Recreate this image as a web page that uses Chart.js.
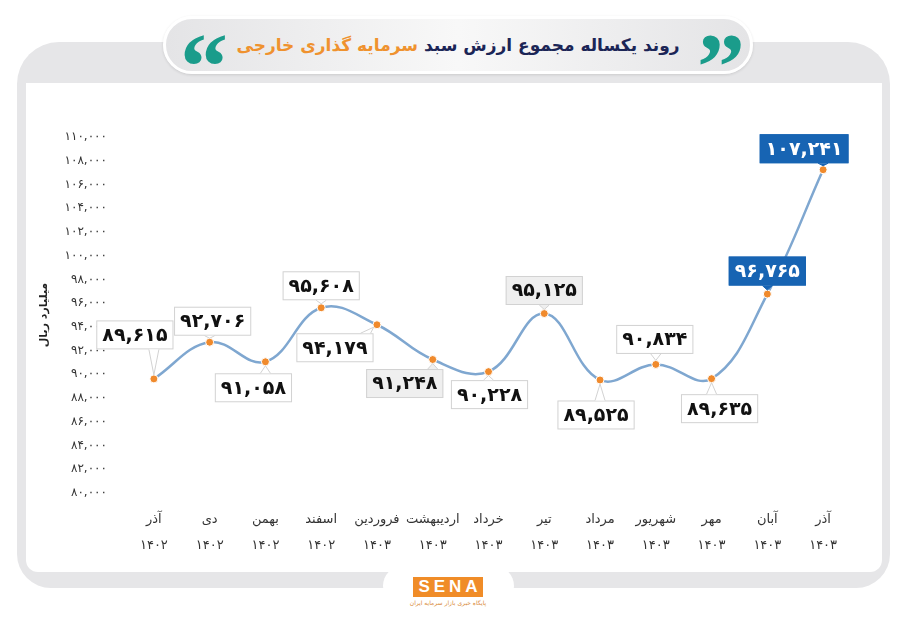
<!DOCTYPE html>
<html lang="fa">
<head>
<meta charset="utf-8">
<script src="https://cdn.jsdelivr.net/npm/chart.js@4.4.1/dist/chart.umd.min.js"></script>
<style>
  html, body { margin: 0; padding: 0; background: #fff; }
  #wrap { position: relative; width: 900px; height: 623px; overflow: hidden; font-family: "DejaVu Sans", sans-serif; }
  .abs { position: absolute; }
  #frame { left: 17px; top: 42px; width: 873px; height: 546px; background: #e6e6e8; border-radius: 42px 42px 34px 34px; }
  #inner { left: 26px; top: 83px; width: 856px; height: 489px; background: #fff; border-radius: 0 0 12px 12px; }
  #notch { left: 383px; top: 566px; width: 131px; height: 40px; background: #fff; border-radius: 22px; }
  #pill { left: 163px; top: 16px; width: 584px; height: 52px; border-radius: 30px; border: 3px solid #fff;
          background: linear-gradient(90deg, #e4e4e6 0%, #f8f8f8 50%, #e4e4e6 100%); box-shadow: 0 1px 3px rgba(0,0,0,0.12); }
  #title { left: 163px; top: 16px; width: 590px; height: 58px; line-height: 58px; text-align: center; font-weight: bold; font-size: 17px; }
  .q { font-family: "Liberation Serif", serif; font-weight: bold; font-size: 96px; line-height: 96px; color: #1a9c8b; }
  #logo { left: 413px; top: 577px; width: 70px; height: 20px; background: #f08c28; color: #fff; font-family: "Liberation Sans", sans-serif;
          font-weight: bold; font-size: 17px; line-height: 20px; text-align: center; letter-spacing: 4px; text-indent: 4px; }
  #logosub { left: 403px; top: 599px; width: 90px; text-align: center; font-size: 6px; color: #d98a3a; }
  canvas { position: absolute; left: 0; top: 0; }
</style>
</head>
<body>
<div id="wrap">
  <div id="frame" class="abs"></div>
  <div id="inner" class="abs"></div>
  <div id="notch" class="abs"></div>
  <div id="pill" class="abs"></div>
  <div id="title" class="abs" dir="rtl"><span style="color:#1b2556">روند یکساله مجموع ارزش سبد </span><span style="color:#ef922f">سرمایه گذاری خارجی</span></div>
  <div class="abs q" style="left:697px; top:19px;">&#8221;</div>
  <div class="abs q" style="left:180px; top:19px;">&#8220;</div>
  <div id="logo" class="abs">SENA</div>
  <div id="logosub" class="abs" dir="rtl">پایگاه خبری بازار سرمایه ایران</div>
  <canvas id="c" width="900" height="623"></canvas>
</div>
<script>
// داده ها
const months = ['آذر', 'دی', 'بهمن', 'اسفند', 'فروردین', 'اردیبهشت', 'خرداد', 'تیر', 'مرداد', 'شهریور', 'مهر', 'آبان', 'آذر'];
const years = ['۱۴۰۲', '۱۴۰۲', '۱۴۰۲', '۱۴۰۲', '۱۴۰۳', '۱۴۰۳', '۱۴۰۳', '۱۴۰۳', '۱۴۰۳', '۱۴۰۳', '۱۴۰۳', '۱۴۰۳', '۱۴۰۳'];
const values = [89615, 92706, 91058, 95608, 94179, 91248, 90228, 95125, 89525, 90834, 89635, 96765, 107241];
const yMin = 80000;
const yMax = 110000;
const yStep = 2000;
const yTitle = 'میلیارد ریال';

// جای برچسب ها نسبت به نقطه
const labelOffsets = [[-19, -44], [3, -21], [-12, 26], [0, -22], [-42, 23], [-28, 24], [1, 23], [0, -23], [-4, 35], [-1, -25], [8, 30], [0, -23], [-19, -21]];
const labelKinds = ['w', 'w', 'w', 'w', 'w', 'g', 'w', 'g', 'w', 'w', 'w', 'b', 'b'];

const faDigits = '۰۱۲۳۴۵۶۷۸۹';
function toFa(n) {
    return n.toLocaleString('en-US').replace(/\d/g, d => faDigits[d]);
}

const calloutPlugin = {
    id: 'callouts',
    afterDatasetsDraw(chart) {
        const ctx = chart.ctx;
        const meta = chart.getDatasetMeta(0);
        ctx.save();
        ctx.font = 'bold 19px "DejaVu Sans", sans-serif';
        ctx.textAlign = 'center';
        ctx.textBaseline = 'middle';
        meta.data.forEach((pt, i) => {
            const txt = toFa(values[i]);
            const w = ctx.measureText(txt).width + 12;
            const h = 29;
            const cx = pt.x + labelOffsets[i][0];
            const cy = pt.y + labelOffsets[i][1];
            const left = cx - w / 2, top = cy - h / 2;
            const kind = labelKinds[i];
            const fill = kind === 'b' ? '#1764b3' : (kind === 'g' ? '#efefef' : '#ffffff');
            const stroke = kind === 'b' ? '#1764b3' : '#d2d2d2';

            // پایه فلش
            const below = labelOffsets[i][1] > 0;
            const edgeY = below ? top : top + h;
            let bx = Math.min(Math.max(pt.x, left + 8), left + w - 8);
            const b1 = bx - 5, b2 = bx + 5;
            const dx = pt.x - bx, dy = pt.y - edgeY;
            const len = Math.sqrt(dx * dx + dy * dy) || 1;
            const ax = pt.x - dx / len * 4, ay = pt.y - dy / len * 4;

            ctx.fillStyle = fill;
            ctx.strokeStyle = stroke;
            ctx.lineWidth = 1;
            ctx.fillRect(left, top, w, h);
            ctx.strokeRect(left + 0.5, top + 0.5, w - 1, h - 1);

            ctx.beginPath();
            ctx.moveTo(b1, edgeY);
            ctx.lineTo(ax, ay);
            ctx.lineTo(b2, edgeY);
            ctx.closePath();
            ctx.fill();
            ctx.beginPath();
            ctx.moveTo(b1, edgeY);
            ctx.lineTo(ax, ay);
            ctx.lineTo(b2, edgeY);
            ctx.stroke();

            ctx.fillStyle = kind === 'b' ? '#ffffff' : '#111111';
            ctx.fillText(txt, cx, cy + 1);
        });
        ctx.restore();
    }
};

const ctx = document.getElementById('c').getContext('2d');

const chart = new Chart(ctx, {
    type: 'line',
    data: {
        labels: months.map((m, i) => [m, years[i]]),
        datasets: [{
            data: values,
            borderColor: '#7fa7d0',
            borderWidth: 2.5,
            tension: 0.4,
            pointBackgroundColor: '#f08a2c',
            pointBorderColor: '#ffffff',
            pointBorderWidth: 1,
            pointRadius: 4
        }]
    },
    options: {
        responsive: false,
        animation: false,
        layout: { padding: { left: 30, top: 137, right: 49, bottom: 60 } },
        plugins: {
            legend: { display: false },
            tooltip: { enabled: false }
        },
        scales: {
            x: {
                offset: true,
                grid: { display: false, drawTicks: false },
                border: { display: false },
                ticks: {
                    color: '#333',
                    padding: 14,
                    maxRotation: 0,
                    autoSkip: false,
                    font: { family: '"DejaVu Sans", sans-serif', size: 13, lineHeight: 2 }
                },
                afterFit(scale) { scale.height = 70; }
            },
            y: {
                min: yMin,
                max: yMax,
                grid: { display: false, drawTicks: false },
                border: { display: false },
                ticks: {
                    stepSize: yStep,
                    color: '#333',
                    padding: 19,
                    font: { family: '"DejaVu Sans", sans-serif', size: 12 },
                    callback: v => toFa(v)
                },
                title: {
                    display: true,
                    text: yTitle,
                    color: '#222',
                    padding: { top: 8, bottom: 0 },
                    font: { family: '"DejaVu Sans", sans-serif', size: 11, weight: 'bold' }
                },
                afterFit(scale) { scale.width = 96; }
            }
        }
    },
    plugins: [calloutPlugin]
});
</script>
</body>
</html>
